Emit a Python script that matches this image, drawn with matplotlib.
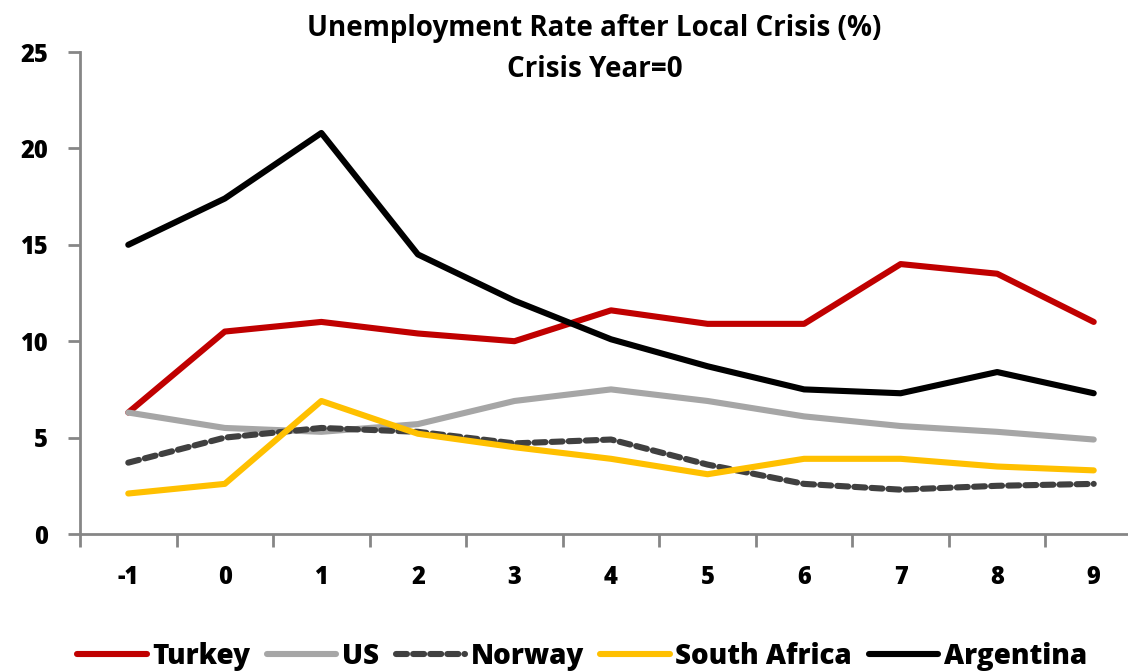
import numpy as np
import matplotlib.pyplot as plt
from matplotlib.ticker import FixedLocator

years = ["-1", "0", "1", "2", "3", "4", "5", "6", "7", "8", "9"]
turkey = [6.3, 10.5, 11.0, 10.4, 10.0, 11.6, 10.9, 10.9, 14.0, 13.5, 11.0]
us = [6.3, 5.5, 5.3, 5.7, 6.9, 7.5, 6.9, 6.1, 5.6, 5.3, 4.9]
norway = [3.7, 5.0, 5.5, 5.3, 4.7, 4.9, 3.6, 2.6, 2.3, 2.5, 2.6]
south_africa = [2.1, 2.6, 6.9, 5.2, 4.5, 3.9, 3.1, 3.9, 3.9, 3.5, 3.3]
argentina = [15.0, 17.4, 20.8, 14.5, 12.1, 10.1, 8.7, 7.5, 7.3, 8.4, 7.3]

series = [
    ("Turkey", turkey, "#C00000", "-"),
    ("US", us, "#A6A6A6", "-"),
    ("Norway", norway, "#404040", (0, (1.8, 1.0))),
    ("South Africa", south_africa, "#FFC000", "-"),
    ("Argentina", argentina, "#000000", "-"),
]

plt.rcParams["font.family"] = ["Open Sans", "DejaVu Sans"]

fig = plt.figure(figsize=(11.28, 6.71), dpi=100)
ax = fig.add_axes([80 / 1128, 137 / 671, 1062 / 1128, 482 / 671])

x = np.arange(len(years))
for name, vals, color, ls in series:
    ax.plot(x, vals, color=color, linestyle=ls, linewidth=4.4, label=name,
            solid_capstyle="round", dash_capstyle="round")

ax.set_xlim(-0.5, len(years) - 0.5)
ax.set_ylim(0, 25)
ax.set_yticks([0, 5, 10, 15, 20, 25])
ax.set_xticks(x)
ax.set_xticklabels(years)
ax.xaxis.set_minor_locator(FixedLocator(np.arange(-0.5, len(years), 1.0)))

for side in ["top", "right"]:
    ax.spines[side].set_visible(False)
for side in ["left", "bottom"]:
    ax.spines[side].set_color("#868686")
    ax.spines[side].set_linewidth(2)

ax.tick_params(axis="x", which="major", length=0, pad=22)
ax.tick_params(axis="x", which="minor", length=9, width=2, color="#868686", direction="out")
ax.tick_params(axis="y", length=9, width=2, color="#868686", direction="out", pad=14)
for lab in ax.get_xticklabels() + ax.get_yticklabels():
    lab.set_fontsize(17)
    lab.set_fontweight("heavy")

fig.text(0.527, 0.958, "Unemployment Rate after Local Crisis (%)", ha="center", va="center",
         fontsize=20, fontweight="bold")
fig.text(0.527, 0.897, "Crisis Year=0", ha="center", va="center",
         fontsize=20, fontweight="bold")

fig.legend(loc="center", bbox_to_anchor=(0.516, 0.022), ncol=5, frameon=False,
           prop={"size": 20, "weight": "heavy"}, handlelength=2.5, handletextpad=0.2,
           columnspacing=0.6)

fig.savefig("out.png", dpi=100)
